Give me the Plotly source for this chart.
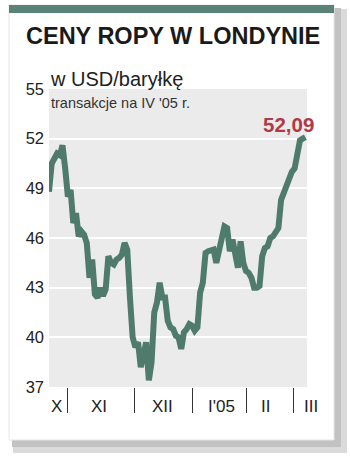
import plotly.graph_objects as go

# ---- data (trading-day index, Brent price USD/bbl) ----
prices = [48.8, 50.5, 50.8, 51.1, 51.0, 51.6, 50.2, 48.5, 48.9, 46.9,
          47.5, 46.1, 46.4, 46.2, 45.7, 43.6, 44.7, 42.6, 42.4, 43.0,
          42.5, 42.9, 44.9, 44.5, 44.4, 44.7, 44.8, 45.0, 45.7, 45.3,
          42.4, 40.0, 39.4, 39.7, 38.2, 39.2, 39.7, 37.4, 38.5, 41.5,
          42.1, 43.3, 42.4, 42.4, 41.0, 40.6, 40.5, 40.1, 40.0, 39.3,
          40.3, 40.5, 40.8, 40.7, 40.4, 40.6, 42.7, 43.3, 45.1, 45.2,
          45.3, 45.3, 44.5, 45.4, 45.9, 46.7, 46.6, 45.2, 45.9, 45.1,
          44.2, 45.8, 44.5, 44.0, 43.9, 43.6, 43.0, 43.0, 43.1, 44.9,
          45.4, 45.5, 46.0, 46.1, 46.3, 46.6, 48.3, 48.7, 49.3, 49.5,
          50.0, 50.2, 51.2, 51.9, 52.0, 52.09]
days = list(range(len(prices)))

month_bounds = [7.0, 31.5, 53.0, 73.0, 90.7]
month_labels = ["X", "XI", "XII", "I'05", "II", "III"]
month_label_pos = [2.6, 18.5, 41.9, 64.0, 80.4, 97.0]

y_ticks = [37, 40, 43, 46, 49, 52, 55]
last_label = "52,09"

title = "CENY ROPY W LONDYNIE"
unit = "w USD/baryłkę"
note = "transakcje na IV '05 r."

# ---- geometry ----
W, H = 350, 458
L, R, T, B = 49, 307, 89, 387
X_RANGE = [0, 95.6]

def px(xpix):
    return (xpix - L) / (R - L)

def py(ypix):
    return (B - ypix) / (B - T)

def ipaper(i):
    return (i - X_RANGE[0]) / (X_RANGE[1] - X_RANGE[0])

GREEN = "#4f7b6c"
RED = "#b13a48"
FONT = "Liberation Sans, Arial, sans-serif"

fig = go.Figure()
fig.add_trace(go.Scatter(
    x=days, y=prices, mode="lines",
    line=dict(color=GREEN, width=6, shape="linear"),
    hoverinfo="skip", showlegend=False, cliponaxis=True,
))

shapes = [
    # shadow
    dict(type="rect", xref="paper", yref="paper", layer="below",
         x0=px(13), x1=px(347), y0=py(453), y1=py(9),
         fillcolor="#dadada", line=dict(width=0)),
    dict(type="rect", xref="paper", yref="paper", layer="below",
         x0=px(12), x1=px(341), y0=py(447), y1=py(8),
         fillcolor="#c2c2c2", line=dict(width=0)),
    # card
    dict(type="rect", xref="paper", yref="paper", layer="below",
         x0=px(9), x1=px(334), y0=py(440), y1=py(5),
         fillcolor="white", line=dict(color="#e6e6e6", width=1)),
    # top green bar
    dict(type="rect", xref="paper", yref="paper", layer="below",
         x0=px(9), x1=px(334), y0=py(13), y1=py(5),
         fillcolor="#5a8276", line=dict(width=0)),
    # plot area background
    dict(type="rect", xref="paper", yref="paper", layer="below",
         x0=0, x1=1, y0=0, y1=1,
         fillcolor="#ebebeb", line=dict(width=0)),
]

annotations = [
    dict(text=f"<b>{title}</b>", xref="paper", yref="paper",
         x=px(172.5), y=py(36), xanchor="center", yanchor="middle",
         showarrow=False,
         font=dict(family=FONT, size=23.5, color="#1a1a1a")),
    dict(text=unit, xref="paper", yref="paper",
         x=px(48), y=py(79), xanchor="left", yanchor="middle",
         showarrow=False, font=dict(family=FONT, size=20, color="#222")),
    dict(text=note, xref="paper", yref="paper",
         x=px(49), y=py(103), xanchor="left", yanchor="middle",
         showarrow=False, font=dict(family=FONT, size=14.5, color="#333")),
    dict(text=f"<b>{last_label}</b>", xref="paper", yref="paper",
         x=px(316), y=py(124), xanchor="right", yanchor="middle",
         showarrow=False, font=dict(family=FONT, size=20.5, color=RED)),
]
for lab, pos in zip(month_labels, month_label_pos):
    annotations.append(dict(
        text=lab, xref="paper", yref="paper", x=ipaper(pos), y=py(406),
        xanchor="center", yanchor="middle", showarrow=False,
        font=dict(family=FONT, size=17, color="#222")))

fig.update_layout(
    width=W, height=H,
    margin=dict(l=L, r=W - R, t=T, b=H - B, pad=0),
    paper_bgcolor="white", plot_bgcolor="rgba(0,0,0,0)",
    shapes=shapes, annotations=annotations, showlegend=False,
    xaxis=dict(range=X_RANGE, showgrid=False, zeroline=False,
               tickmode="array", tickvals=month_bounds,
               showticklabels=False, ticks="outside", ticklen=25,
               tickwidth=1.2, tickcolor="#333", showline=False,
               fixedrange=True),
    yaxis=dict(range=[37, 55], tickmode="array", tickvals=y_ticks,
               ticktext=[str(v) for v in y_ticks],
               showgrid=True, gridcolor="white", gridwidth=1.5,
               zeroline=False, showline=False, ticks="",
               tickfont=dict(family=FONT, size=16.5, color="#222"),
               ticklabelstandoff=4, fixedrange=True),
)

fig.write_html("out.html")
